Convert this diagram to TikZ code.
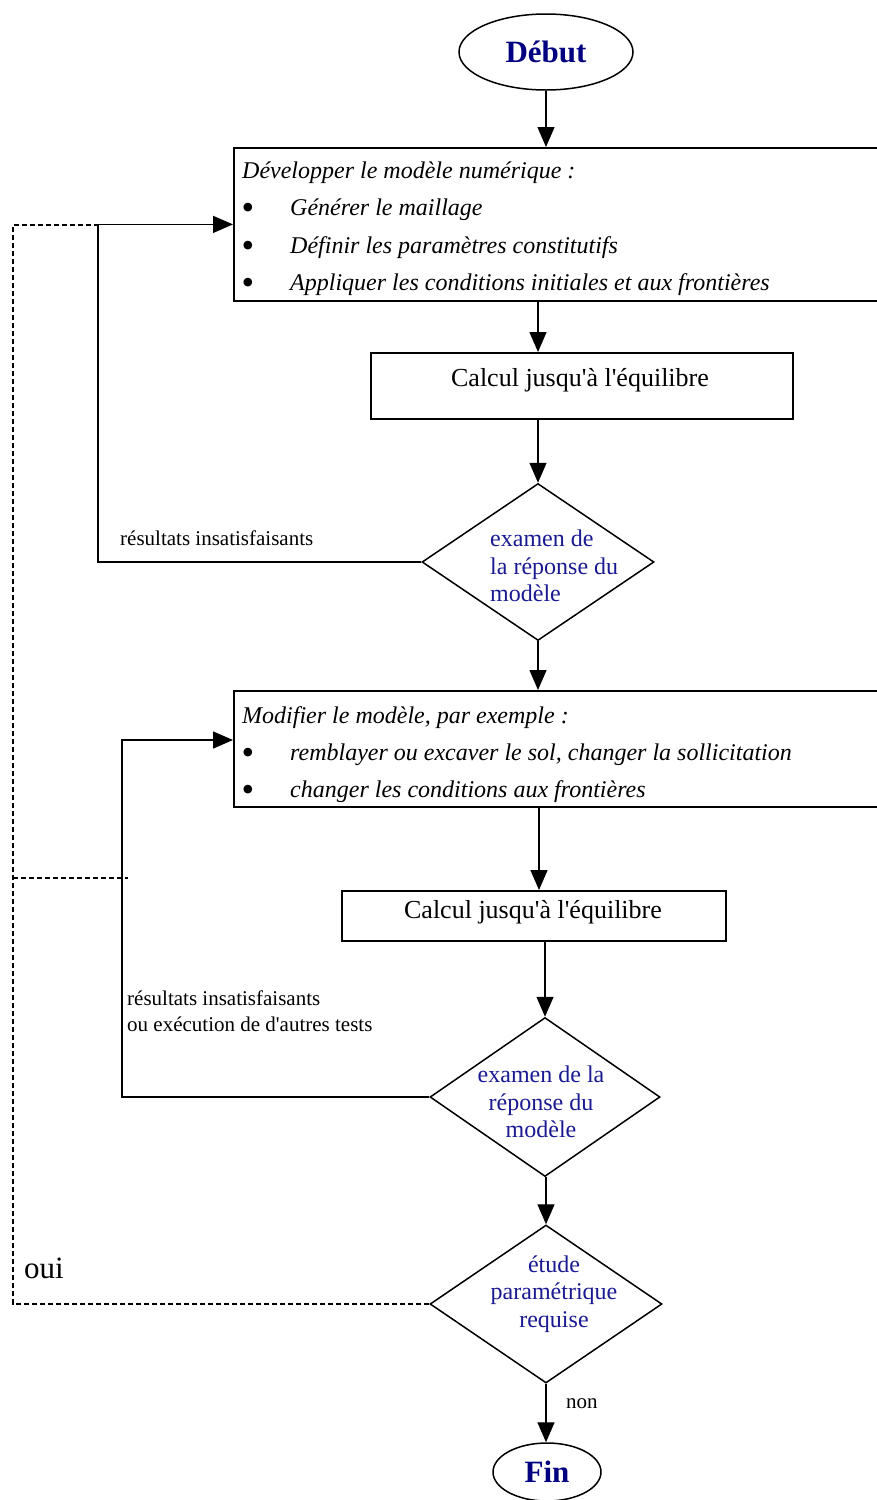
\documentclass[tikz,border=0pt]{standalone}
\usepackage{fontspec}
\setmainfont{Liberation Serif}[Ligatures=TeXOff]
\usetikzlibrary{shapes.geometric,arrows.meta}
\definecolor{navy}{RGB}{0,0,128}
\definecolor{dtext}{RGB}{25,25,145}
\begin{document}
\begin{tikzpicture}[x=1pt,y=-1pt,
  box/.style={draw,line width=1.8pt,rectangle,inner sep=0pt},
  term/.style={draw,line width=1.5pt,ellipse,inner sep=0pt,font=\fontsize{31}{36}\selectfont\bfseries,text=navy},
  dec/.style={draw,line width=1.5pt,diamond,inner sep=0pt},
  arr/.style={line width=1.4pt,-{Triangle[length=20pt,width=17pt]}},
  ln/.style={line width=1.4pt},
  dsh/.style={line width=1.1pt,dash pattern=on 5pt off 3pt},
  itxt/.style={inner sep=0pt,anchor=mid west,font=\fontsize{24}{28}\selectfont\itshape},
  bul/.style={inner sep=0pt,anchor=mid,font=\fontsize{36}{38}\selectfont},
  dtxt/.style={inner sep=0pt,font=\fontsize{24}{27.5}\selectfont,text=dtext},
  lbl/.style={inner sep=0pt,font=\fontsize{21}{26}\selectfont}]
\useasboundingbox (0,0) rectangle (877,1500);

% terminals
\node[term,minimum width=174pt,minimum height=76pt] (deb) at (546,52) {Début};
\node[term,minimum width=108pt,minimum height=58pt] (fin) at (547,1472) {Fin};

% box 1
\node[box,anchor=north west,minimum width=660pt,minimum height=153pt] (box1) at (233,147) {};
\node[itxt] (b1t0) at (242,176) {Développer le modèle numérique :};
\node[bul] (b1u1) at (248,217) {•};
\node[itxt] (b1t1) at (290,213) {Générer le maillage};
\node[bul] (b1u2) at (248,255) {•};
\node[itxt] (b1t2) at (290,251) {Définir les paramètres constitutifs};
\node[bul] (b1u3) at (248,292) {•};
\node[itxt] (b1t3) at (290,288) {Appliquer les conditions initiales et aux frontières};

% box 2
\node[box,anchor=north west,minimum width=422pt,minimum height=66pt] (box2) at (370,352) {};
\node[inner sep=0pt,font=\fontsize{26}{30}\selectfont] (b2t) at (580,380) {Calcul jusqu'à l'équilibre};

% diamond 1
\node[dec,minimum width=232pt,minimum height=157pt] (d1) at (538,562) {};
\node[dtxt,anchor=west,align=left] (d1t) at (490,566) {examen de\\la réponse du\\modèle};

% box 3
\node[box,anchor=north west,minimum width=660pt,minimum height=116pt] (box3) at (233,690) {};
\node[itxt] (b3t0) at (242,721) {Modifier le modèle, par exemple :};
\node[bul] (b3u1) at (248,762) {•};
\node[itxt] (b3t1) at (290,758) {remblayer ou excaver le sol, changer la sollicitation};
\node[bul] (b3u2) at (248,799) {•};
\node[itxt] (b3t2) at (290,795) {changer les conditions aux frontières};

% box 4
\node[box,anchor=north west,minimum width=384pt,minimum height=50pt] (box4) at (341,890) {};
\node[inner sep=0pt,font=\fontsize{26}{30}\selectfont] (b4t) at (533,912) {Calcul jusqu'à l'équilibre};

% diamond 2
\node[dec,minimum width=230pt,minimum height=159pt] (d2) at (545,1097) {};
\node[dtxt,align=center] (d2t) at (541,1102) {examen de la\\réponse du\\modèle};

% diamond 3
\node[dec,minimum width=232pt,minimum height=158pt] (d3) at (546,1304) {};
\node[dtxt,align=center] (d3t) at (554,1294) {étude\\paramétrique\\requise};

% labels
\node[lbl,anchor=mid west] (l1) at (120,543) {résultats insatisfaisants};
\node[lbl,anchor=north west,align=left] (l2) at (127,990) {résultats insatisfaisants\\ou exécution de d'autres tests};
\node[inner sep=0pt,anchor=mid west,font=\fontsize{31}{34}\selectfont] (oui) at (24,1276) {oui};
\node[lbl,anchor=mid west] (non) at (566,1406) {non};

% helper coordinates
\coordinate (k1) at (98,562);
\coordinate (k2) at (122,1097);
\coordinate (b3in) at (233,740);
\coordinate (x539) at (539,808);
\coordinate (dA) at (13,1304);
\coordinate (dB) at (13,225);
\coordinate (dC) at (13,878);
\coordinate (dD) at (128,878);

% main flow
\draw[arr] (deb.south) -- (deb.south |- box1.north);
\draw[arr] (d1.north |- box1.south) -- (d1.north |- box2.north);
\draw[arr] (d1.north |- box2.south) -- (d1.north);
\draw[arr] (d1.south) -- (d1.south |- box3.north);
\draw[arr] (x539) -- (x539 |- box4.north);
\draw[arr] (d2.north |- box4.south) -- (d2.north);
\draw[arr] (d3.north |- d2.south) -- (d3.north);
\draw[arr] (d3.south) -- (d3.south |- fin.north);

% feedback loops
\draw[arr] (d1.west) -- (k1) |- (box1.west);
\draw[arr] (d2.west) -- (k2) |- (b3in);

% parametric study (dashed)
\draw[dsh] (d3.west) -- (dA) -- (dB) -- (k1 |- dB);
\draw[dsh] (dC) -- (dD);
\end{tikzpicture}
\end{document}
